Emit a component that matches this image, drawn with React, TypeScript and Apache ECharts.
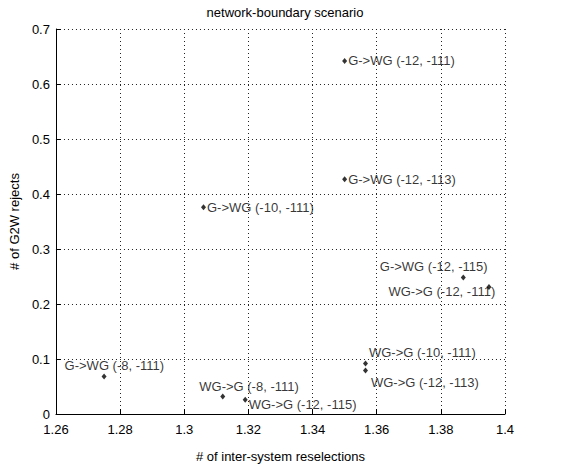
import React, { useEffect, useRef } from "react";
import * as echarts from "echarts";

const titleText = "network-boundary scenario";
const xAxisName = "# of inter-system reselections";
const yAxisName = "# of G2W rejects";

const pointNames = [
  "G->WG (-12, -111)",
  "G->WG (-12, -113)",
  "G->WG (-10, -111)",
  "G->WG (-12, -115)",
  "WG->G (-12, -111)",
  "WG->G (-10, -111)",
  "WG->G (-12, -113)",
  "WG->G (-8, -111)",
  "WG->G (-12, -115)",
  "G->WG (-8, -111)",
];
const xValues = [1.35, 1.35, 1.306, 1.387, 1.395, 1.3565, 1.3565, 1.312, 1.319, 1.275];
const yValues = [0.642, 0.427, 0.376, 0.248, 0.231, 0.092, 0.079, 0.032, 0.026, 0.068];

const xMin = 1.26;
const xMax = 1.4;
const xStep = 0.02;
const yMin = 0;
const yMax = 0.7;
const yStep = 0.1;

// label layout (pixel offsets from marker), kept separate from data
const labelOffsets: [number, number][] = [
  [0, 0],
  [0, 0],
  [0, 0],
  [-87, -11],
  [-104, 5],
  [0, -11],
  [2, 12],
  [-27, -10],
  [0, 5],
  [-43, -11],
];

const FONT = "Liberation Sans, Arial, Helvetica, sans-serif";

export default function App() {
  const ref = useRef<HTMLDivElement>(null);
  useEffect(() => {
    if (!ref.current) return;
    const chart = echarts.init(ref.current, null, { renderer: "svg" });
    const data = pointNames.map((n, i) => ({
      name: n,
      value: [xValues[i], yValues[i]],
      label: {
        show: true,
        position: "right",
        distance: 1,
        offset: labelOffsets[i],
        formatter: n,
        color: "#000",
        fontSize: 13,
        fontFamily: FONT,
      },
    }));
    const grid = { left: 55, right: 65, top: 29, bottom: 44 };
    const dotted = { color: "#222", width: 1, type: [1, 3] as number[] };
    chart.setOption({
      animation: false,
      backgroundColor: "#fff",
      textStyle: { fontFamily: FONT, color: "#000" },
      title: {
        text: titleText,
        left: 280,
        textAlign: "center",
        top: 1,
        textStyle: { fontSize: 13, fontWeight: "normal", color: "#000", fontFamily: FONT },
      },
      grid,
      xAxis: {
        type: "value",
        min: xMin,
        max: xMax,
        interval: xStep,
        name: xAxisName,
        nameLocation: "middle",
        nameGap: 36,
        nameTextStyle: { fontSize: 13, color: "#000", fontFamily: FONT },
        axisLine: { show: true, onZero: false, lineStyle: { color: "#000", width: 1 } },
        axisTick: { show: true, inside: true, length: 5, lineStyle: { color: "#000" } },
        axisLabel: {
          color: "#000",
          fontSize: 13,
          fontFamily: FONT,
          margin: 9,
          formatter: (v: number) => String(parseFloat(v.toFixed(2))),
        },
        splitLine: { show: true, lineStyle: dotted },
      },
      yAxis: {
        type: "value",
        min: yMin,
        max: yMax,
        interval: yStep,
        name: yAxisName,
        nameLocation: "middle",
        nameGap: 31,
        nameTextStyle: { fontSize: 13, color: "#000", fontFamily: FONT },
        axisLine: { show: true, onZero: false, lineStyle: { color: "#000", width: 1 } },
        axisTick: { show: true, inside: true, length: 5, lineStyle: { color: "#000" } },
        axisLabel: {
          color: "#000",
          fontSize: 13,
          fontFamily: FONT,
          margin: 6,
          formatter: (v: number) => String(parseFloat(v.toFixed(2))),
        },
        splitLine: { show: true, lineStyle: dotted },
      },
      series: [
        {
          type: "scatter",
          symbol: "diamond",
          symbolSize: [5, 6],
          itemStyle: { color: "#000" },
          data,
        },
      ],
    });
    return () => chart.dispose();
  }, []);
  return (
    <div
      ref={ref}
      style={{ position: "fixed", left: 0, top: 0, width: 570, height: 468, background: "#fff" }}
    />
  );
}
